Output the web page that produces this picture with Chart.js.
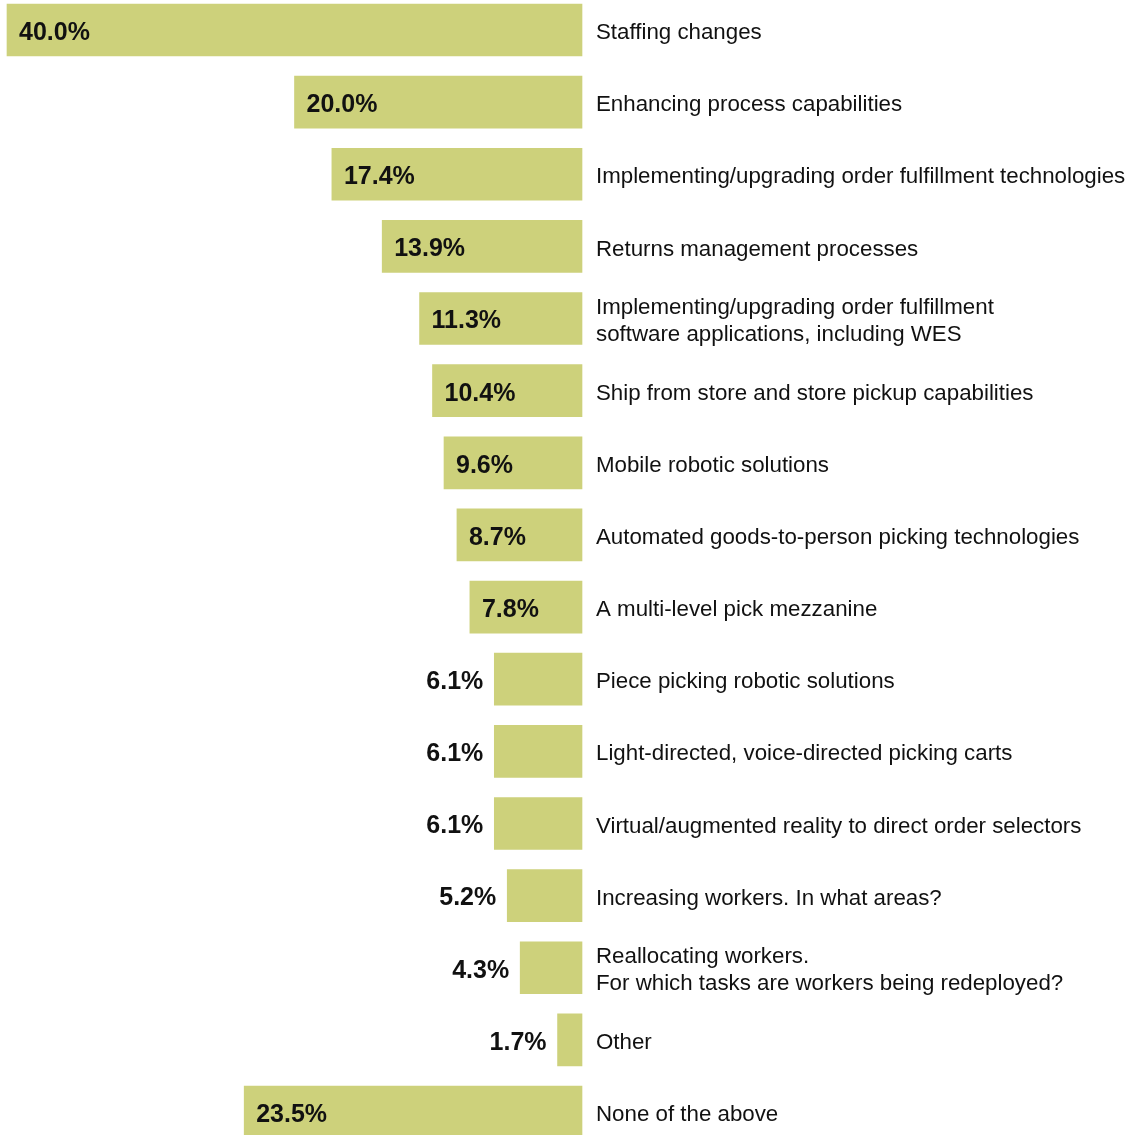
<!DOCTYPE html>
<html>
<head>
<meta charset="utf-8">
<title>Planned changes</title>
<script src="https://cdn.jsdelivr.net/npm/chart.js@4.4.1/dist/chart.umd.min.js"></script>
<style>
    html, body { margin: 0; padding: 0; background: #fff; }
    #wrap { position: relative; width: 1130px; height: 1135px; }
</style>
</head>
<body>
<div id="wrap"><canvas id="chart"></canvas></div>
<script>
// Answer categories, top to bottom
const categories = [
    'Staffing changes',
    'Enhancing process capabilities',
    'Implementing/upgrading order fulfillment technologies',
    'Returns management processes',
    ['Implementing/upgrading order fulfillment', 'software applications, including WES'],
    'Ship from store and store pickup capabilities',
    'Mobile robotic solutions',
    'Automated goods-to-person picking technologies',
    'A multi-level pick mezzanine',
    'Piece picking robotic solutions',
    'Light-directed, voice-directed picking carts',
    'Virtual/augmented reality to direct order selectors',
    'Increasing workers. In what areas?',
    ['Reallocating workers.', 'For which tasks are workers being redeployed?'],
    'Other',
    'None of the above'
];

// Share of respondents (%)
const values = [40.0, 20.0, 17.4, 13.9, 11.3, 10.4, 9.6, 8.7, 7.8, 6.1, 6.1, 6.1, 5.2, 4.3, 1.7, 23.5];

const barColor = '#cdd17b';
const fontFamily = '"Liberation Sans", Arial, Helvetica, sans-serif';

// Bars narrower than this get their label outside, to the left
const insideCutoff = 7;

// Percent labels next to / inside each bar
const valueLabels = {
    id: 'valueLabels',
    afterDatasetsDraw(chart) {
        const ctx = chart.ctx;
        const meta = chart.getDatasetMeta(0);
        ctx.save();
        ctx.font = 'bold 25px ' + fontFamily;
        ctx.fillStyle = '#111';
        ctx.textBaseline = 'middle';
        meta.data.forEach((bar, i) => {
            const v = values[i];
            const left = Math.min(bar.x, bar.base);
            const text = v.toFixed(1) + '%';
            if (v > insideCutoff) {
                ctx.textAlign = 'left';
                ctx.fillText(text, left + 12, bar.y + 3);
            } else {
                ctx.textAlign = 'right';
                ctx.fillText(text, left - 11, bar.y + 3);
            }
        });
        ctx.restore();
    }
};

new Chart(document.getElementById('chart'), {
    type: 'bar',
    data: {
        labels: categories,
        datasets: [{
            data: values,
            backgroundColor: barColor,
            borderWidth: 0,
            barThickness: 52,
            clip: false
        }]
    },
    options: {
        indexAxis: 'y',
        responsive: true,
        maintainAspectRatio: false,
        animation: false,
        layout: { padding: { left: 7, top: 30, bottom: 23, right: 0 } },
        plugins: {
            legend: { display: false },
            tooltip: { enabled: false }
        },
        scales: {
            x: {
                display: false,
                reverse: true,
                min: 0,
                max: 40
            },
            y: {
                position: 'right',
                offset: false,
                grid: { display: false, drawTicks: false },
                border: { display: false },
                afterFit(scale) {
                    // fixed label column; end rows sit on the layout padding
                    scale.width = 548;
                    scale.paddingTop = 0;
                    scale.paddingBottom = 0;
                },
                ticks: {
                    padding: 14,
                    labelOffset: 3,
                    color: '#111',
                    font: { family: fontFamily, size: 22.3, lineHeight: 1.22 }
                }
            }
        }
    },
    plugins: [valueLabels]
});
</script>
</body>
</html>
